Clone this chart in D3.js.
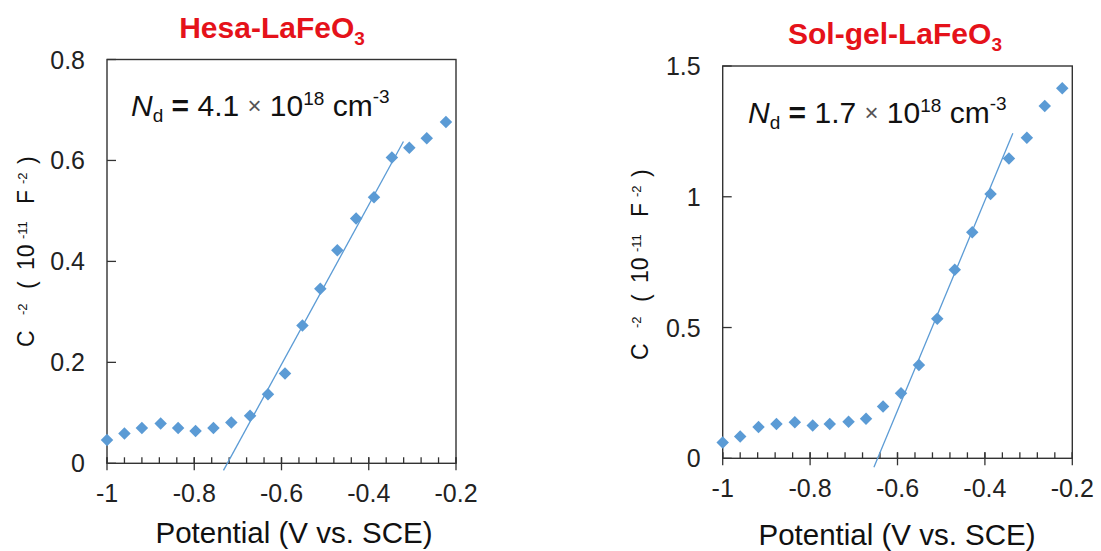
<!DOCTYPE html>
<html><head><meta charset="utf-8">
<script src="https://cdn.jsdelivr.net/npm/d3@7"></script>
<style>
body{margin:0;background:#fff;}
svg{display:block;}
text{font-family:"Liberation Sans",Arial,sans-serif;}
</style></head>
<body>
<svg id="c" width="1101" height="551"></svg>
<script>
// ---------- data ----------
const hesaPotential = [-1.000,-0.960,-0.920,-0.877,-0.837,-0.797,-0.756,-0.715,-0.672,-0.631,-0.592,-0.552,-0.511,-0.472,-0.429,-0.388,-0.347,-0.307,-0.267,-0.223];
const hesaC2 = [0.046,0.059,0.070,0.079,0.070,0.064,0.070,0.081,0.094,0.137,0.178,0.273,0.346,0.422,0.485,0.527,0.606,0.625,0.644,0.676];
const hesaFitX = [-0.733,-0.3205];
const hesaFitY = [-0.014,0.6375];

const solPotential = [-1.000,-0.960,-0.918,-0.877,-0.835,-0.794,-0.755,-0.712,-0.672,-0.633,-0.592,-0.551,-0.509,-0.469,-0.429,-0.387,-0.345,-0.304,-0.263,-0.223];
const solC2 = [0.060,0.083,0.120,0.131,0.138,0.125,0.131,0.140,0.151,0.198,0.249,0.357,0.534,0.721,0.864,1.011,1.146,1.226,1.347,1.415];
const solFitX = [-0.654,-0.336];
const solFitY = [-0.0345,1.2425];

const xTicks = [-1,-0.8,-0.6,-0.4,-0.2];
const xMinorTicks = d3.range(0,21).map(i=>-1+i*0.04);
const hesaYTicks = [0,0.2,0.4,0.6,0.8];
const solYTicks = [0,0.5,1,1.5];

const titles = ["Hesa-LaFeO","Sol-gel-LaFeO"];
const ndValues = ["4.1","1.7"];

// ---------- drawing ----------
const svg = d3.select("#c");
const BLUE = "#5B9BD5", AX="#333", RED="#e5121a";
const diamond = {draw(ctx,size){const r=Math.sqrt(size/2);ctx.moveTo(0,-r);ctx.lineTo(r,0);ctx.lineTo(0,r);ctx.lineTo(-r,0);ctx.closePath();}};

function panel(cfg){
  const g = svg.append("g");
  const x = d3.scaleLinear().domain([-1,-0.2]).range([cfg.x0,cfg.x1]);
  const y = d3.scaleLinear().domain([0,cfg.ymax]).range([cfg.y0,cfg.y1]);
  const fmt = d=> d===0?"0":String(d);
  // box
  g.append("rect").attr("x",cfg.x0).attr("y",cfg.y1).attr("width",cfg.x1-cfg.x0).attr("height",cfg.y0-cfg.y1)
    .attr("fill","none").attr("stroke",AX).attr("stroke-width",1.4);
  // x minor ticks
  g.append("g").selectAll("line").data(xMinorTicks).join("line")
    .attr("x1",d=>x(d)).attr("x2",d=>x(d)).attr("y1",cfg.y0).attr("y2",cfg.y0-6)
    .attr("stroke",AX).attr("stroke-width",1.3);
  // x major ticks
  g.append("g").selectAll("line").data(xTicks).join("line")
    .attr("x1",d=>x(d)).attr("x2",d=>x(d)).attr("y1",cfg.y0-6).attr("y2",cfg.y0+7)
    .attr("stroke",AX).attr("stroke-width",1.3);
  g.append("g").selectAll("text").data(xTicks).join("text")
    .attr("x",d=>x(d)).attr("y",cfg.y0+39).attr("text-anchor","middle")
    .attr("font-size",25).attr("fill","#222").text(d=>fmt(d));
  // y ticks
  g.append("g").selectAll("line").data(cfg.yTicks).join("line")
    .attr("x1",cfg.x0).attr("x2",cfg.x0+9).attr("y1",d=>y(d)).attr("y2",d=>y(d))
    .attr("stroke",AX).attr("stroke-width",1.3);
  g.append("g").selectAll("text").data(cfg.yTicks).join("text")
    .attr("x",cfg.x0-22).attr("y",d=>y(d)+9).attr("text-anchor","end")
    .attr("font-size",25).attr("fill","#222").text(d=>fmt(d));
  // fit line
  g.append("line").attr("x1",x(cfg.fitX[0])).attr("y1",y(cfg.fitY[0]))
    .attr("x2",x(cfg.fitX[1])).attr("y2",y(cfg.fitY[1]))
    .attr("stroke",BLUE).attr("stroke-width",1.3);
  // points
  g.append("g").selectAll("path").data(cfg.xs.map((v,i)=>[v,cfg.ys[i]])).join("path")
    .attr("transform",d=>`translate(${x(d[0])},${y(d[1])})`)
    .attr("d",d3.symbol().type(diamond).size(78)).attr("fill",BLUE);
  // title
  const t = g.append("text").attr("x",cfg.tx).attr("y",cfg.ty).attr("text-anchor","middle")
    .attr("font-size",30).attr("font-weight","bold").attr("fill",RED);
  t.append("tspan").text(cfg.title);
  t.append("tspan").attr("font-size",19).attr("dy",7).text("3");
  // Nd annotation
  const n = g.append("text").attr("x",cfg.nx).attr("y",cfg.ny).attr("font-size",30).attr("fill","#111");
  n.append("tspan").attr("font-style","italic").text("N");
  n.append("tspan").attr("font-size",19).attr("dy",6).text("d");
  n.append("tspan").attr("dy",-6).attr("font-weight","bold").text(" = ");
  n.append("tspan").text(cfg.nd+" ");
  n.append("tspan").attr("font-size",24).attr("fill","#555").attr("dy",-2).text("×");
  n.append("tspan").attr("dy",2).text(" 10");
  n.append("tspan").attr("font-size",19).attr("dy",-11).text("18");
  n.append("tspan").attr("dy",11).text(" cm");
  n.append("tspan").attr("font-size",19).attr("dy",-13).text("-3");
  // x title
  g.append("text").attr("x",cfg.xtx).attr("y",cfg.xty).attr("text-anchor","middle")
    .attr("font-size",29.5).attr("fill","#111").text("Potential (V vs. SCE)");
  // y title (rotated pieces)
  const yl = g.append("g").attr("transform",`translate(${cfg.ylx},${cfg.yly}) rotate(-90)`);
  const pieces = [
    {t:"C",d:0,fs:23,sh:0},
    {t:"-2",d:32,fs:13,sh:-7},
    {t:"(",d:58,fs:23,sh:1},
    {t:"10",d:77,fs:23,sh:0},
    {t:"-11",d:108,fs:13,sh:-7},
    {t:"F",d:143,fs:23,sh:0},
    {t:"-2",d:163,fs:13,sh:-7},
    {t:")",d:183,fs:23,sh:1}
  ];
  yl.selectAll("text").data(pieces).join("text")
    .attr("x",d=>d.d).attr("y",d=>d.sh).attr("font-size",d=>d.fs).attr("fill","#111").text(d=>d.t);
}

panel({x0:107,x1:456,y0:463.3,y1:59.5,ymax:0.8,yTicks:hesaYTicks,xs:hesaPotential,ys:hesaC2,
  fitX:hesaFitX,fitY:hesaFitY,title:titles[0],tx:272,ty:38.3,nd:ndValues[0],nx:131,ny:116,
  xtx:294,xty:543,ylx:34,yly:347});
panel({x0:722.7,x1:1072.3,y0:458.3,y1:66,ymax:1.5,yTicks:solYTicks,xs:solPotential,ys:solC2,
  fitX:solFitX,fitY:solFitY,title:titles[1],tx:895,ty:44.3,nd:ndValues[1],nx:748,ny:123.3,
  xtx:897,xty:544.5,ylx:647.5,yly:360});
</script>
</body></html>
